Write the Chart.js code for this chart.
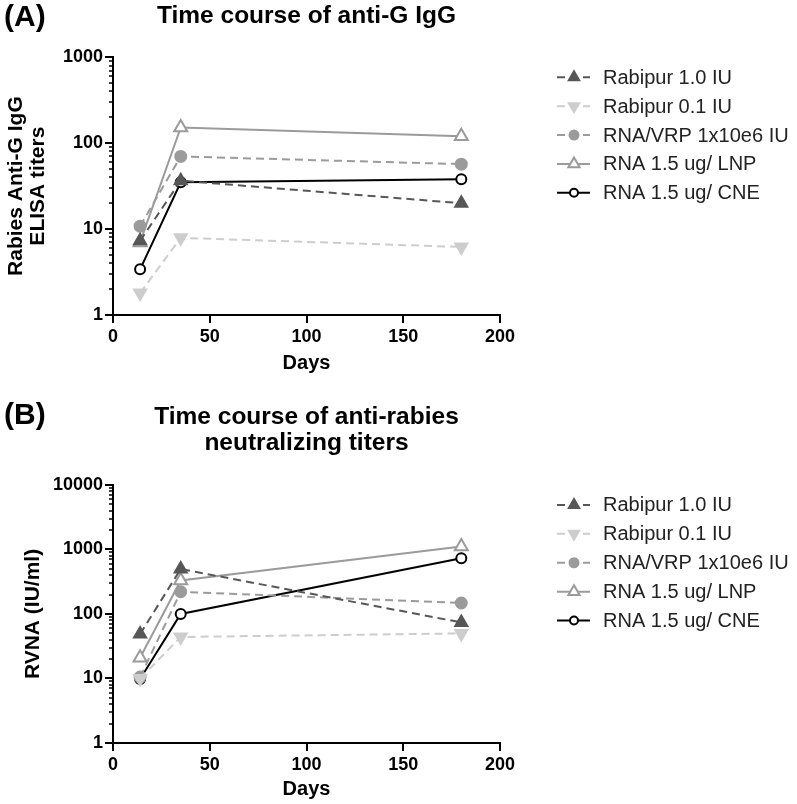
<!DOCTYPE html>
<html lang="en">
<head>
  <meta charset="UTF-8">
  <title>Rabies antibody time course</title>
  <script src="https://cdn.jsdelivr.net/npm/chart.js"></script>
  <style>
    body { margin: 0; background: #fff; }
    .panel { position: absolute; left: 0; }
    #panelA { top: 0; }
    #panelB { top: 390px; }
  </style>
</head>
<body>
  <canvas id="panelA" class="panel" width="797" height="390"></canvas>
  <canvas id="panelB" class="panel" width="797" height="414"></canvas>

<script>
// sampling days
const days = [14, 35, 180];
const groups = ['Rabipur 1.0 IU', 'Rabipur 0.1 IU', 'RNA/VRP 1x10e6 IU', 'RNA 1.5 ug/ LNP', 'RNA 1.5 ug/ CNE'];

// (A) anti-G IgG ELISA titers
const igRabipur10 = [7.3, 36.6, 20];
const igRabipur01 = [1.8, 7.9, 6.2];
const igRnaVrp = [10.8, 70, 57];
const igRnaLnp = [7, 152, 120];
const igRnaCne = [3.4, 35, 38];

// (B) neutralizing titers, IU/ml
const nRabipur10 = [49, 497, 74];
const nRabipur01 = [10, 44, 50];
const nRnaVrp = [10.5, 221, 148];
const nRnaLnp = [21, 330, 1110];
const nRnaCne = [9.8, 100, 730];

const xTicks = [0, 50, 100, 150, 200];
const yTicksA = [1, 10, 100, 1000];
const yTicksB = [1, 10, 100, 1000, 10000];

// line / marker look per group
const looks = [
  { color: '#575757', dash: [8, 5], point: 'triangle', rot: 0,   fill: '#575757', r: 7 },
  { color: '#cdcdcd', dash: [8, 5], point: 'triangle', rot: 180, fill: '#cdcdcd', r: 7 },
  { color: '#9b9b9b', dash: [8, 5], point: 'circle',   rot: 0,   fill: '#9b9b9b', r: 5.5 },
  { color: '#9b9b9b', dash: [],     point: 'triangle', rot: 0,   fill: '#ffffff', r: 7.5 },
  { color: '#000000', dash: [],     point: 'circle',   rot: 0,   fill: '#ffffff', r: 5 }
];

Chart.defaults.font.family = "'Liberation Sans', Arial, sans-serif";
Chart.defaults.color = '#000';

function makeDatasets(seriesList) {
  return seriesList.map((vals, i) => ({
    label: groups[i],
    data: days.map((d, k) => ({ x: d, y: vals[k] })),
    borderColor: looks[i].color,
    borderWidth: 2,
    borderDash: looks[i].dash,
    pointStyle: looks[i].point,
    pointRotation: looks[i].rot,
    pointRadius: looks[i].r,
    pointBorderWidth: 2,
    pointBorderColor: looks[i].color,
    pointBackgroundColor: looks[i].fill,
    tension: 0
  }));
}

// tick marks: long ones at decades / x steps, short minor ones on the log axis
const axisTicks = {
  id: 'axisTicks',
  afterDraw(chart) {
    const { ctx, chartArea } = chart;
    const x = chart.scales.x, y = chart.scales.y;
    ctx.save();
    ctx.setLineDash([]);
    ctx.strokeStyle = '#000';
    const decades = Math.round(Math.log10(y.max));
    for (let e = 0; e <= decades; e++) {
      for (let m = 1; m < 10; m++) {
        if (e === decades && m > 1) break;
        const py = Math.round(y.getPixelForValue(m * Math.pow(10, e)));
        const len = m === 1 ? 8 : 4;
        ctx.lineWidth = m === 1 ? 2 : 1.5;
        ctx.beginPath();
        ctx.moveTo(chartArea.left, py);
        ctx.lineTo(chartArea.left - len, py);
        ctx.stroke();
      }
    }
    ctx.lineWidth = 2;
    xTicks.forEach(v => {
      const px = Math.round(x.getPixelForValue(v));
      ctx.beginPath();
      ctx.moveTo(px, chartArea.bottom);
      ctx.lineTo(px, chartArea.bottom + 8);
      ctx.stroke();
    });
    ctx.restore();
  }
};

// legend to the right of the plot: dashed/solid sample with marker, then label
const sideLegend = {
  id: 'sideLegend',
  afterDraw(chart) {
    const { ctx, chartArea } = chart;
    chart.data.datasets.forEach((ds, i) => {
      const yy = chartArea.top + 20 + i * 28.9;
      ctx.save();
      ctx.strokeStyle = ds.borderColor;
      ctx.lineWidth = 2;
      ctx.setLineDash(ds.borderDash);
      ctx.beginPath();
      ctx.moveTo(557, yy);
      ctx.lineTo(590, yy);
      ctx.stroke();
      ctx.setLineDash([]);
      ctx.fillStyle = ds.pointBackgroundColor;
      ctx.strokeStyle = ds.pointBorderColor;
      Chart.helpers.drawPoint(ctx, {
        pointStyle: ds.pointStyle,
        rotation: ds.pointRotation,
        radius: ds.pointRadius - 1,
        borderWidth: 2
      }, 574, yy);
      ctx.fillStyle = '#222';
      ctx.font = "20px 'Liberation Sans', Arial, sans-serif";
      ctx.textBaseline = 'middle';
      ctx.fillText(ds.label, 603, yy + 1);
      ctx.restore();
    });
  }
};

// "(A)" / "(B)" panel letters
const panelTag = {
  id: 'panelTag',
  afterDraw(chart, args, opts) {
    const ctx = chart.ctx;
    ctx.save();
    ctx.font = "bold 30px 'Liberation Sans', Arial, sans-serif";
    ctx.fillStyle = '#000';
    ctx.textBaseline = 'middle';
    ctx.fillText(opts.text, 4, opts.y);
    ctx.restore();
  }
};

function makePanel(id, cfg) {
  return new Chart(document.getElementById(id), {
    type: 'line',
    data: { datasets: makeDatasets(cfg.series) },
    plugins: [axisTicks, sideLegend, panelTag],
    options: {
      responsive: false,
      animation: false,
      layout: { padding: { left: 0, right: 297, top: 0, bottom: 0 } },
      plugins: {
        legend: { display: false },
        tooltip: { enabled: false },
        panelTag: { text: cfg.tag, y: cfg.tagY },
        title: {
          display: true,
          fullSize: false,
          text: cfg.title,
          font: { size: 24.5, weight: 'bold', lineHeight: 1.05 },
          padding: cfg.titlePad
        }
      },
      scales: {
        x: {
          type: 'linear',
          min: 0,
          max: 200,
          afterFit: s => { s.height = cfg.xHeight; },
          afterBuildTicks: s => { s.ticks = xTicks.map(v => ({ value: v })); },
          grid: { display: false, drawTicks: false, tickLength: 0 },
          border: { display: true, color: '#000', width: 2 },
          ticks: { padding: 11, font: { size: 18, weight: 'bold' } },
          title: {
            display: true,
            text: 'Days',
            font: { size: 20, weight: 'bold', lineHeight: 1.2 },
            padding: { top: 0, bottom: cfg.daysPad }
          }
        },
        y: {
          type: 'logarithmic',
          min: 1,
          max: cfg.yTicks[cfg.yTicks.length - 1],
          afterFit: s => { s.width = 113; },
          afterBuildTicks: s => { s.ticks = cfg.yTicks.map(v => ({ value: v })); },
          grid: { display: false, drawTicks: false, tickLength: 0 },
          border: { display: true, color: '#000', width: 2 },
          ticks: {
            padding: 10,
            autoSkip: false,
            font: { size: 18, weight: 'bold' },
            callback: v => String(v)
          },
          title: {
            display: true,
            text: cfg.yTitle,
            font: { size: 21, weight: 'bold', lineHeight: 1.05 },
            padding: { top: cfg.yTitlePad, bottom: 0 }
          }
        }
      }
    }
  });
}

makePanel('panelA', {
  series: [igRabipur10, igRabipur01, igRnaVrp, igRnaLnp, igRnaCne],
  tag: '(A)', tagY: 18,
  title: 'Time course of anti-G IgG',
  titlePad: { top: 3.5, bottom: 28 },
  yTicks: yTicksA,
  yTitle: ['Rabies Anti-G IgG', 'ELISA titers'],
  yTitlePad: 5,
  xHeight: 75,
  daysPad: 15
});

makePanel('panelB', {
  series: [nRabipur10, nRabipur01, nRnaVrp, nRnaLnp, nRnaCne],
  tag: '(B)', tagY: 26,
  title: ['Time course of anti-rabies', 'neutralizing titers'],
  titlePad: { top: 14.5, bottom: 29 },
  yTicks: yTicksB,
  yTitle: 'RVNA (IU/ml)',
  yTitlePad: 22,
  xHeight: 61,
  daysPad: 3
});
</script>
</body>
</html>
